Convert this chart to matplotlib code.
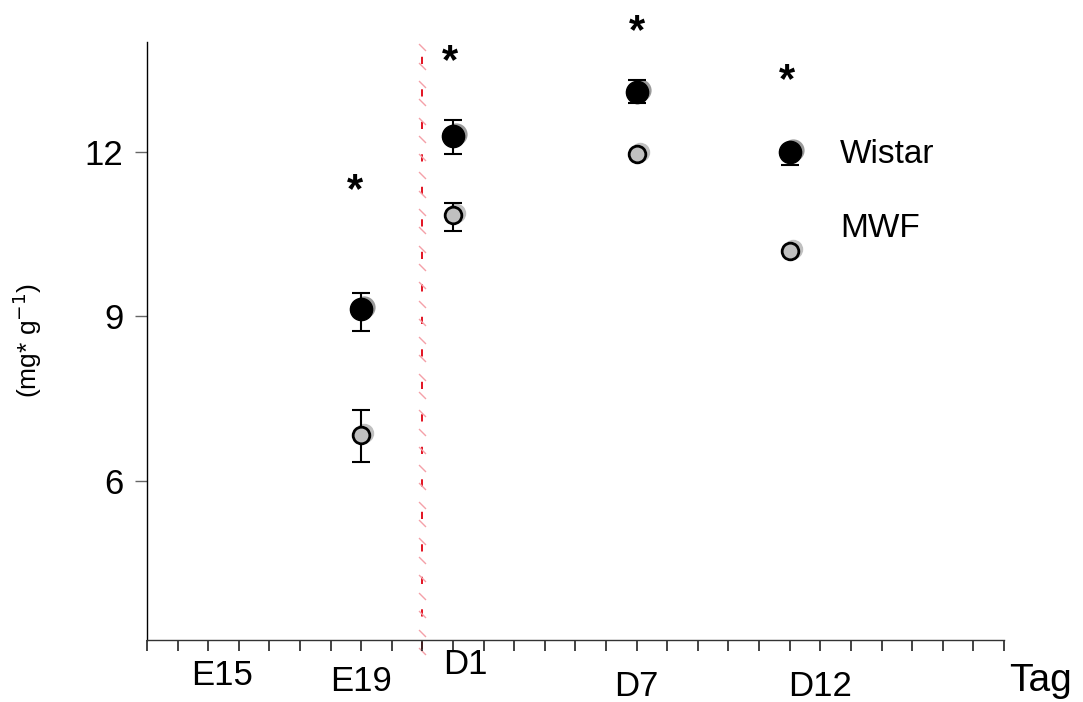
import matplotlib
matplotlib.use("Agg")
import matplotlib.pyplot as plt
import matplotlib.transforms as mtransforms
from matplotlib.path import Path
import numpy as np

plt.rcParams['font.family'] = ['Liberation Sans', 'DejaVu Sans']

# data
x_pos = [7, 10, 16, 21]
wistar = [9.13, 12.29, 13.09, 12.0]
wistar_err_lo = [0.39, 0.33, 0.21, 0.25]
wistar_err_hi = [0.29, 0.29, 0.22, 0.0]
mwf = [6.84, 10.85, 11.95, 10.19]
mwf_err_lo = [0.49, 0.29, 0.0, 0.0]
mwf_err_hi = [0.45, 0.22, 0.0, 0.0]
star_x = [6.8, 9.9, 16.0, 20.9]
star_y = [11.28, 13.63, 14.18, 13.28]
tick_labels = ["E15", "E19", "D1", "D7", "D12"]
label_x = [2.45, 7.0, 10.4, 16.0, 22.0]
label_y = [2.45, 2.35, 2.65, 2.25, 2.25]
divider_x = 9

fig = plt.figure(figsize=(10.83, 7.02), dpi=100)
ax = fig.add_axes([0.1357, 0.0883, 0.7913, 0.8519])
ax.set_xlim(0, 28)
ax.set_ylim(3.1, 14.0)

for s in ['top', 'right']:
    ax.spines[s].set_visible(False)
ax.spines['left'].set_linewidth(1.0)
ax.spines['bottom'].set_linewidth(1.0)
ax.spines['bottom'].set_color('#333333')

ax.set_xticks(np.arange(0, 29, 1))
ax.set_xticklabels([])
ax.tick_params(axis='x', direction='out', length=8, width=1.2, color='#222222')
ax.set_yticks([6, 9, 12])
ax.set_yticklabels(['6', '9', '12'])
ax.tick_params(axis='y', direction='out', length=9, width=1.0, color='#666666',
               labelsize=25, pad=8)

# divider line
ax.axvline(divider_x, ymin=-0.015, ymax=1.0, color='#e00010', lw=1.3,
           dashes=(4, 14), clip_on=False, zorder=1)
slash = Path([(-0.5, 0.5), (0.5, -0.5)])
sy = np.linspace(2.9, 13.9, 34)
ax.plot([divider_x] * len(sy), sy, linestyle='none', marker=slash, ms=5,
        mec='#f4a0a8', mew=1.0, clip_on=False, zorder=1)

shadow = mtransforms.offset_copy(ax.transData, fig=fig, x=3, y=2, units='dots')


def draw_err(xs, ys, lo, hi):
    idx = [i for i in range(len(xs)) if lo[i] > 0 or hi[i] > 0]
    ax.errorbar([xs[i] for i in idx], [ys[i] for i in idx],
                yerr=[[lo[i] for i in idx], [hi[i] for i in idx]], fmt='none',
                ecolor='black', elinewidth=1.5, capsize=6.5, capthick=1.5, zorder=3)


# Wistar
draw_err(x_pos, wistar, wistar_err_lo, wistar_err_hi)
ax.plot(x_pos, wistar, 'o', ms=16, mfc='#9a9a9a', mec='none', transform=shadow, zorder=2)
ax.plot(x_pos, wistar, 'o', ms=16, mfc='black', mec='black', zorder=4)

# MWF
draw_err(x_pos, mwf, mwf_err_lo, mwf_err_hi)
ax.plot(x_pos, mwf, 'o', ms=14, mfc='#c0c0c0', mec='none', transform=shadow, zorder=2)
ax.plot(x_pos, mwf, 'o', ms=12, mfc='#c0c0c0', mec='black', mew=2.0, zorder=4)

# significance stars
for sx, syy in zip(star_x, star_y):
    ax.text(sx, syy, '*', fontsize=30, ha='center', va='center', clip_on=False,
            fontweight='bold')

# x tick labels
for lx, ly, t in zip(label_x, label_y, tick_labels):
    ax.text(lx, ly, t, fontsize=25, ha='center', va='center', clip_on=False)
ax.text(29.2, 2.17, 'Tag', fontsize=28, ha='center', va='baseline', clip_on=False)

# series labels
ax.text(22.65, 11.95, 'Wistar', fontsize=24, ha='left', va='center')
ax.text(22.65, 10.6, 'MWF', fontsize=24, ha='left', va='center')

fig.text(0.025, 0.515, '(mg* g$^{-1}$)', rotation=90, fontsize=19,
         ha='center', va='center')

fig.savefig('out.png', dpi=100)
